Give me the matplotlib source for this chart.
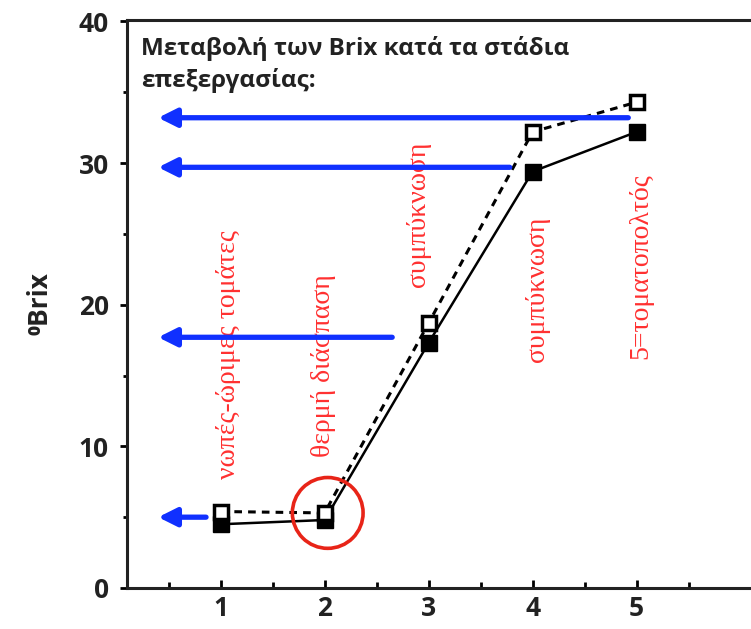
import numpy as np
import matplotlib.pyplot as plt
from matplotlib.patches import Ellipse

plt.rcParams['font.family'] = ['Open Sans', 'DejaVu Sans']

# stages and Brix values
stages = [1, 2, 3, 4, 5]
brix_solid = [4.5, 4.8, 17.3, 29.4, 32.2]
brix_dashed = [5.4, 5.3, 18.7, 32.2, 34.3]

# blue arrows: level, tail x, tip x
arrow_levels = [33.2, 29.7, 17.7, 5.0]
arrow_tails = [4.92, 3.78, 2.65, 0.86]
arrow_tips = [0.40, 0.40, 0.40, 0.40]

# red vertical labels
stage_labels = ['νωπές-ώριμες τομάτες', 'θερμή διάσπαση', 'συμπύκνωση',
                'συμπύκνωση', '5=τοματοπολτός']
label_x = [1.08, 1.99, 2.90, 4.05, 5.04]
label_y = [16.5, 15.7, 26.4, 21.1, 22.7]

title = 'Μεταβολή των Brix κατά τα στάδια\nεπεξεργασίας:'

fig = plt.figure(figsize=(7.51, 6.29), dpi=100)
ax = fig.add_axes([127/751, 41/629, 624/751, 568/629])

ax.plot(stages, brix_solid, color='black', lw=1.8, marker='s', ms=11,
        mfc='black', mec='black', zorder=3)
ax.plot(stages, brix_dashed, color='black', lw=2.2, ls=(0, (2.5, 2)),
        marker='s', ms=10, mfc='white', mec='black', mew=2.5, zorder=4)

for lv, t0, t1 in zip(arrow_levels, arrow_tails, arrow_tips):
    ax.annotate('', xy=(t1, lv), xytext=(t0, lv),
                arrowprops=dict(arrowstyle='-|>,head_length=1.1,head_width=0.55',
                                lw=3.8, color='#1030ff', shrinkA=0, shrinkB=0),
                zorder=5)

ax.add_patch(Ellipse((2.03, 5.3), 0.68, 5.0, fill=False, ec='#e82418', lw=2.6, zorder=6))

for s, x, y in zip(stage_labels, label_x, label_y):
    ax.text(x, y, s, rotation=90, ha='center', va='center', color='#ff3030',
            fontsize=20, family='Liberation Serif')

ax.text(0.022, 0.972, title, transform=ax.transAxes, ha='left', va='top',
        fontsize=17.5, fontweight='bold', color='#222222', linespacing=1.35)

ax.set_xlim(0.1, 6.1)
ax.set_ylim(0, 40.1)
ax.set_xticks(stages)
ax.set_xticks(np.arange(0.5, 6.1, 1), minor=True)
ax.set_yticks([0, 10, 20, 30, 40])
ax.set_yticks([5, 15, 25, 35], minor=True)
ax.tick_params(axis='x', direction='in', length=6, width=2, labelsize=19, pad=5)
ax.tick_params(axis='x', which='minor', direction='in', length=4, width=2)
ax.tick_params(axis='y', direction='out', length=5, width=2, labelsize=19, pad=8)
ax.tick_params(axis='y', which='minor', direction='out', length=3, width=2)
for lab in ax.get_xticklabels() + ax.get_yticklabels():
    lab.set_fontweight('bold')
    lab.set_color('#222222')
for sp in ['left', 'bottom', 'top']:
    ax.spines[sp].set_linewidth(2.2)
    ax.spines[sp].set_color('#222222')
ax.spines['right'].set_visible(False)

ax.set_ylabel('⁰Brix', fontsize=19, fontweight='bold', color='#222222', labelpad=18)

fig.savefig('out.png', dpi=100)
